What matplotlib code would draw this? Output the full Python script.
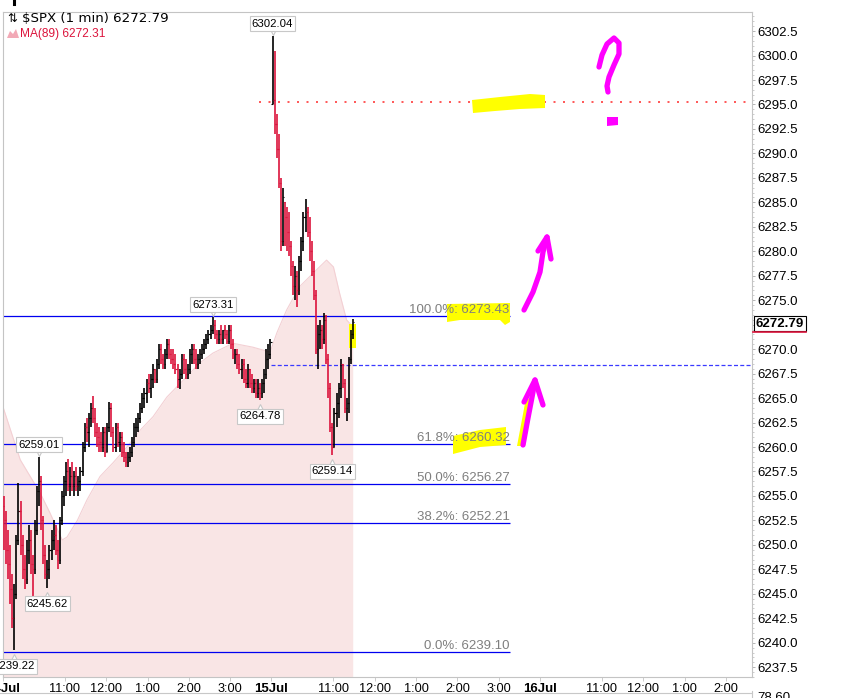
import numpy as np
import matplotlib.pyplot as plt
from matplotlib.transforms import Affine2D, blended_transform_factory, offset_copy
from matplotlib.patches import Polygon
from matplotlib.ticker import MultipleLocator

plt.rcParams['font.family'] = ['Liberation Sans', 'DejaVu Sans']

# 3-minute bars (high / low / close)
# 14 Jul, 9:30 -> 16:00
jul14_high = [6255.0, 6253.5, 6251.5, 6250.0, 6247.0, 6246.0, 6251.0, 6256.3, 6254.5, 6251.0,
              6249.0, 6250.5, 6252.0, 6251.5, 6249.0, 6252.5, 6256.0, 6259.01, 6257.0, 6253.0,
              6250.0, 6248.5, 6250.0, 6251.5, 6252.5, 6252.0, 6250.5, 6252.8, 6255.5, 6257.0,
              6258.5, 6258.8, 6258.0, 6258.5, 6257.5, 6258.0, 6257.0, 6258.0, 6260.5, 6262.5,
              6263.0, 6263.5, 6264.5, 6265.2, 6264.0, 6262.5, 6262.0, 6261.5, 6262.0, 6262.0,
              6262.5, 6264.6, 6264.5, 6262.0, 6262.5, 6262.5, 6261.5, 6261.5, 6260.5, 6259.5,
              6259.5, 6260.0, 6261.0, 6262.5, 6263.0, 6263.5, 6264.5, 6265.5, 6266.0, 6267.0,
              6267.5, 6267.5, 6268.5, 6268.0, 6269.0, 6270.5, 6270.5, 6269.5, 6270.0, 6271.0,
              6271.0, 6270.0, 6270.0, 6269.5, 6268.5, 6268.0, 6269.5, 6269.5, 6269.0, 6268.5,
              6270.0, 6270.5, 6270.5, 6270.0, 6269.5, 6270.0, 6270.5, 6271.0, 6271.5, 6272.0,
              6272.5, 6273.31, 6273.0, 6272.0, 6272.0, 6272.5, 6272.0, 6272.5, 6272.0, 6272.5,
              6272.5, 6271.0, 6270.0, 6270.0, 6269.5, 6269.0, 6269.0, 6268.0, 6268.5, 6268.0,
              6267.5, 6267.0, 6267.0, 6267.0, 6266.5, 6267.0, 6268.0, 6270.0, 6270.5, 6271.0]
jul14_low = [6249.5, 6248.0, 6246.5, 6244.0, 6241.5, 6239.22, 6244.5, 6250.0, 6249.0, 6246.5,
             6245.5, 6246.0, 6248.0, 6247.0, 6244.7, 6247.0, 6251.0, 6254.0, 6251.5, 6248.0,
             6246.5, 6245.62, 6246.5, 6248.5, 6249.5, 6249.0, 6247.5, 6248.0, 6252.0, 6254.0,
             6255.0, 6255.5, 6255.0, 6255.5, 6255.0, 6255.5, 6255.0, 6255.5, 6257.0, 6259.5,
             6260.5, 6260.0, 6262.0, 6262.5, 6261.0, 6260.0, 6259.5, 6259.5, 6259.5, 6259.0,
             6259.5, 6261.5, 6261.0, 6259.5, 6259.5, 6260.0, 6259.5, 6259.0, 6258.5, 6258.0,
             6258.0, 6258.5, 6259.0, 6260.0, 6261.0, 6261.5, 6262.5, 6263.5, 6264.0, 6264.5,
             6265.5, 6265.0, 6266.0, 6266.5, 6266.5, 6268.0, 6268.5, 6268.0, 6268.0, 6269.0,
             6269.0, 6268.5, 6268.0, 6267.5, 6266.0, 6265.9, 6267.0, 6267.5, 6267.0, 6267.0,
             6267.5, 6268.5, 6268.5, 6268.0, 6268.0, 6268.5, 6269.0, 6269.5, 6270.0, 6270.5,
             6271.0, 6271.5, 6271.0, 6270.5, 6270.5, 6270.5, 6270.5, 6271.0, 6270.5, 6270.5,
             6270.0, 6269.0, 6268.5, 6268.0, 6267.5, 6267.0, 6266.5, 6266.0, 6266.0, 6266.0,
             6265.5, 6265.5, 6265.0, 6265.0, 6264.78, 6265.0, 6265.5, 6267.0, 6268.0, 6269.0]
jul14_close = [6252.5, 6249.5, 6248.0, 6245.5, 6242.5, 6245.0, 6250.5, 6253.5, 6250.0, 6247.5,
               6246.5, 6249.5, 6250.5, 6248.0, 6247.5, 6251.5, 6255.5, 6256.5, 6252.5, 6249.0,
               6247.0, 6247.5, 6249.5, 6250.5, 6251.0, 6249.5, 6248.5, 6252.5, 6255.0, 6256.5,
               6257.5, 6256.0, 6257.0, 6256.0, 6257.0, 6256.0, 6256.5, 6257.5, 6260.0, 6262.0,
               6261.5, 6263.0, 6264.0, 6263.0, 6261.5, 6261.0, 6260.5, 6260.0, 6261.5, 6259.5,
               6262.0, 6264.0, 6261.5, 6260.0, 6262.0, 6260.5, 6261.0, 6259.5, 6259.0, 6258.5,
               6259.0, 6259.5, 6260.5, 6262.0, 6262.0, 6263.0, 6264.0, 6265.0, 6265.5, 6266.5,
               6266.0, 6267.0, 6268.0, 6267.0, 6268.5, 6270.0, 6269.0, 6268.5, 6269.5, 6270.5,
               6269.5, 6269.0, 6268.5, 6268.0, 6267.0, 6267.5, 6269.0, 6268.0, 6267.5, 6268.0,
               6269.5, 6270.0, 6269.0, 6268.5, 6269.0, 6269.5, 6270.0, 6270.5, 6271.0, 6271.5,
               6272.0, 6272.5, 6271.5, 6271.0, 6271.5, 6271.0, 6272.0, 6271.5, 6270.8, 6272.0,
               6270.5, 6269.5, 6269.5, 6268.5, 6268.0, 6268.5, 6267.0, 6266.5, 6268.0, 6266.5,
               6266.0, 6266.5, 6265.5, 6266.0, 6265.5, 6266.5, 6267.5, 6269.0, 6269.5, 6270.7]
# 15 Jul, 9:30 -> ~11:28
jul15_high = [6302.04, 6300.5, 6294.0, 6292.0, 6287.5, 6286.5, 6285.0, 6284.5, 6284.0, 6281.0,
              6279.0, 6278.5, 6278.0, 6279.5, 6281.5, 6284.0, 6285.3, 6284.5, 6283.5, 6281.0,
              6279.0, 6276.0, 6272.5, 6273.0, 6272.5, 6273.7, 6273.5, 6269.5, 6266.5, 6262.5,
              6264.0, 6265.5, 6266.5, 6269.0, 6268.5, 6267.0, 6265.0, 6269.2, 6272.0, 6273.1]
jul15_low = [6295.0, 6292.0, 6289.5, 6286.5, 6280.0, 6280.5, 6280.5, 6280.0, 6279.5, 6277.5,
             6275.5, 6275.0, 6274.3, 6275.5, 6278.0, 6280.0, 6282.0, 6281.5, 6279.0, 6277.5,
             6275.0, 6269.5, 6268.0, 6270.0, 6270.0, 6270.5, 6268.5, 6265.0, 6261.5, 6259.14,
             6260.0, 6262.0, 6263.0, 6265.0, 6266.0, 6263.5, 6262.7, 6263.5, 6268.5, 6271.0]
jul15_close = [6295.5, 6293.0, 6290.5, 6287.0, 6281.0, 6285.5, 6283.5, 6282.0, 6280.5, 6278.5,
               6276.5, 6277.5, 6276.0, 6279.0, 6281.0, 6283.5, 6284.0, 6282.0, 6280.0, 6278.0,
               6275.5, 6270.0, 6271.5, 6272.0, 6271.0, 6273.0, 6269.0, 6266.0, 6262.0, 6260.0,
               6263.5, 6264.5, 6266.0, 6268.5, 6266.5, 6264.0, 6264.5, 6269.0, 6271.5, 6272.79]
prior_close = 6254.0

# MA(89) outline (minutes since 14 Jul 9:30, value)
ma_t = [0, 25, 54, 68, 86, 93, 108, 122, 141, 160, 180, 199, 218, 238, 267, 286, 305, 334,
        363, 388, 398, 412, 431, 451, 470, 480, 489, 499, 508]
ma_v = [6264.1, 6258.7, 6255.3, 6253.3, 6250.5, 6250.8, 6252.5, 6254.6, 6257.0, 6258.4,
        6260.0, 6261.7, 6263.1, 6265.1, 6267.2, 6268.6, 6269.6, 6270.6, 6270.2, 6269.7,
        6271.7, 6274.0, 6276.4, 6277.8, 6279.1, 6278.4, 6275.7, 6273.0, 6272.3]

fib_pct = ['100.0%', '61.8%', '50.0%', '38.2%', '0.0%']
fib_val = [6273.43, 6260.32, 6256.27, 6252.21, 6239.10]
fib_end = 736
dash_level = 6268.4
dot_level = 6295.3

tick_pos = [0, 90, 150, 210, 270, 330, 390, 480, 540, 600, 660, 720, 780, 870, 930, 990, 1050]
tick_lab = ['14Jul', '11:00', '12:00', '1:00', '2:00', '3:00', '15Jul', '11:00', '12:00',
            '1:00', '2:00', '3:00', '16Jul', '11:00', '12:00', '1:00', '2:00']

W, H = 852, 698
fig = plt.figure(figsize=(W / 100, H / 100), dpi=100)
ax = fig.add_axes([3 / W, 1 - 677 / H, 749 / W, 665 / H])
ylo, yhi = 6236.5, 6304.45
ax.set_xlim(0, 1088)
ax.set_ylim(ylo, yhi)

# pixel-space transform (top-left origin) for the overlay drawings
px = Affine2D().scale(1 / W, -1 / H).translate(0, 1) + fig.transFigure

# bars
x = np.concatenate([np.arange(len(jul14_close)) * 3 + 1.5,
                    390 + np.arange(len(jul15_close)) * 3 + 1.5])
hi = np.array(jul14_high + jul15_high)
lo = np.array(jul14_low + jul15_low)
cl = np.array(jul14_close + jul15_close)
op = np.concatenate([[prior_close], cl[:-1]])
cols = np.where(cl >= op, 'black', '#dc143c')
op_tick = np.clip(op, lo, hi)

ax.fill_between(ma_t, ma_v, ylo, color='#f9e5e5', lw=0, zorder=1)
ax.plot(ma_t, ma_v, color='#f3d0d4', lw=0.8, zorder=1.5)

ax.vlines(x, lo, hi, colors=cols, lw=1.2, zorder=3)
ax.hlines(cl, x, x + 1.8, colors=cols, lw=0.8, zorder=3)
ax.hlines(op_tick, x - 1.8, x, colors=cols, lw=0.8, zorder=3)

# fib levels
ax.hlines(fib_val, 0, fib_end, colors='#0000f0', lw=0.9, zorder=2.5)
lab_tr = offset_copy(ax.transData, fig, x=0, y=3, units='dots')
for p, v in zip(fib_pct, fib_val):
    ax.text(fib_end, v, f'{p}: {v:.2f}', transform=lab_tr, ha='right', va='baseline',
            fontsize=9.5, color='#7f7f7f', zorder=7)

ax.hlines(dash_level, 390, 1088, colors='#3a3aff', linestyles=(0, (3.2, 1.8)), lw=0.9, zorder=2.5)
ax.hlines(dot_level, 372, 1088, colors='#ff3b3b', linestyles=(0, (1.2, 4.5)), lw=1.2, zorder=2.5)

# highlighter marks (under the texts and bars)
yellow = [
    [(472, 100), (500, 97), (530, 94), (545, 95), (545, 108), (520, 109), (495, 111), (473, 113)],
    [(447, 304), (510, 303), (510, 322), (505, 325), (500, 320), (460, 320), (447, 322)],
    [(453, 436), (480, 430), (506, 427), (506, 445), (480, 447), (453, 454)],
    [(526, 398), (533, 400), (525, 446), (517, 446)],
    [(349, 324), (356, 324), (356, 348), (349, 348)],
]
for poly in yellow:
    ax.add_patch(Polygon(poly, closed=True, transform=px, fc='#ffff00', ec='none',
                         zorder=2.7, clip_on=False))

# high / low tags
def tag(i, above):
    price = hi[i] if above else lo[i]
    off = 12 if above else -16
    ax.annotate(f'{price:.2f}', xy=(x[i], price), xytext=(0, off), textcoords='offset pixels',
                ha='center', va='center', fontsize=8.2, zorder=8,
                bbox=dict(boxstyle='square,pad=0.2', fc='white', ec='#c8c8c8', lw=0.8))
    tri_tr = offset_copy(ax.transData, fig, x=0, y=4 if above else -7, units='dots')
    ax.plot(x[i], price, transform=tri_tr, marker='v' if above else '^', ms=5,
            mfc='white', mec='#c8c8c8', mew=0.8, zorder=7.5)

n14 = len(jul14_close)
tag(n14 + int(np.argmax(jul15_high)), True)
tag(int(np.argmax(jul14_high[90:])) + 90, True)
tag(int(np.argmax(jul14_high[:25])), True)
tag(int(np.argmin(jul14_low[110:])) + 110, False)
tag(n14 + int(np.argmin(jul15_low)), False)
tag(int(np.argmin(jul14_low[15:30])) + 15, False)
tag(int(np.argmin(jul14_low[:10])), False)

# axes styling
for s in ax.spines.values():
    s.set_color('#c4c4c4')
    s.set_linewidth(0.8)
ax.yaxis.tick_right()
yt = np.arange(6237.5, 6303, 2.5)
ax.set_yticks(yt)
# the 6272.5 label sits under the last-price box
ax.set_yticklabels(['' if abs(v - 6272.5) < 0.1 else f'{v:.1f}' for v in yt])
ax.yaxis.set_minor_locator(MultipleLocator(0.5))
ax.tick_params(axis='y', which='major', length=2.5, width=0.6, color='#a8a8a8', pad=1.5,
               labelsize=9.5)
ax.tick_params(axis='y', which='minor', length=1.5, width=0.5, color='#b8b8b8')
ax.set_xticks(tick_pos)
ax.set_xticklabels(tick_lab)
ax.tick_params(axis='x', length=3, width=0.6, color='#c4c4c4', pad=1.5, labelsize=9.2)
for t in ax.get_xticklabels():
    if 'Jul' in t.get_text():
        t.set_fontweight('bold')
        t.set_fontsize(9.5)

# last price tag
bl = blended_transform_factory(ax.transAxes, ax.transData)
ax.annotate(f'{cl[-1]:.2f}', xy=(1, cl[-1]), xycoords=bl, xytext=(4, -2),
            textcoords='offset pixels', ha='left', va='center', fontsize=9.5,
            fontweight='bold', annotation_clip=False, zorder=9,
            bbox=dict(boxstyle='square,pad=0.12', fc='white', ec='black', lw=0.8))

fig.add_artist(plt.Line2D([753, 806], [331.5, 331.5], transform=px, color='#dc143c', lw=1.2))
fig.add_artist(plt.Line2D([0, 752], [693, 693], transform=px, color='#c8c8c8', lw=0.8))
fig.add_artist(plt.Line2D([752, 752], [691, 698], transform=px, color='#c8c8c8', lw=0.8))
fig.add_artist(plt.Line2D([13.5, 13.5], [0, 4], transform=px, color='black', lw=2.2))
fig.text(757, 692, '78.60', transform=px, va='top', ha='left', fontsize=9.5)

# legend
fig.text(7, 19, '⇅', transform=px, family=['DejaVu Sans'], fontsize=8.5, va='center')
fig.text(22, 19, '$SPX (1 min) 6272.79', transform=px, family=['DejaVu Sans'],
         fontsize=9.6, va='center')
fig.add_artist(Polygon([(7, 38), (10, 31), (13, 34), (16, 29), (19, 38)], closed=True,
                       transform=px, fc='#f2a9b6', ec='none'))
fig.text(20, 34, 'MA(89) 6272.31', transform=px, fontsize=8.6, va='center', color='#dc143c')

# pen strokes
pen = dict(transform=px, color='#ff00ff', lw=3.8, solid_capstyle='round', solid_joinstyle='round')
strokes = [
    [(599, 67), (602, 55), (607, 44), (614, 38), (619, 43), (619, 54), (614, 65), (609, 77),
     (607, 86), (608, 92)],
    [(524, 310), (533, 292), (540, 272), (543, 252), (547, 237)],
    [(538, 251), (547, 237), (551, 259)],
    [(523, 445), (528, 418), (533, 392), (535, 380)],
    [(524, 402), (535, 380), (543, 405)],
]
for s in strokes:
    xs, ys = zip(*s)
    fig.add_artist(plt.Line2D(xs, ys, **pen))
fig.add_artist(Polygon([(607, 117), (618, 117), (618, 125), (607, 126)], closed=True,
                       transform=px, fc='#ff00ff', ec='none'))

fig.savefig('out.png', dpi=100)
